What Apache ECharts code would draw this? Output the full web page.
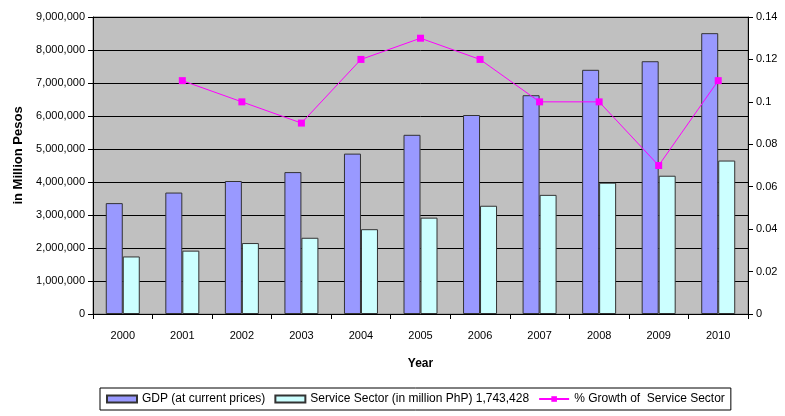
<!DOCTYPE html>
<html>
<head>
<meta charset="utf-8">
<script src="https://cdn.jsdelivr.net/npm/echarts@6/dist/echarts.min.js"></script>
<style>
  html, body { margin: 0; padding: 0; background: #fff; }
  #chart { width: 785px; height: 416px; }
</style>
</head>
<body>
<div id="chart"></div>
<script>
const years = ['2000', '2001', '2002', '2003', '2004', '2005', '2006', '2007', '2008', '2009', '2010']
const gdp = [3360000, 3680000, 4030000, 4300000, 4860000, 5430000, 6030000, 6630000, 7400000, 7660000, 8510000]
const service = [1743428, 1920000, 2150000, 2310000, 2570000, 2920000, 3280000, 3610000, 3980000, 4190000, 4650000]
const growth = [null, 0.11, 0.10, 0.09, 0.12, 0.13, 0.12, 0.10, 0.10, 0.07, 0.11]

const font = 'Liberation Sans, Arial, sans-serif'

const chart = echarts.init(document.getElementById('chart'))

const option = {
  animation: false,
  textStyle: { fontFamily: font },
  grid: {
    left: 93,
    right: 37,
    top: 17,
    bottom: 102,
    show: true,
    backgroundColor: '#C0C0C0',
    borderColor: '#808080',
    borderWidth: 1
  },
  legend: {
    left: 100,
    top: 388,
    padding: [5, 6, 5, 6],
    borderColor: '#000',
    borderWidth: 1,
    itemGap: 9,
    itemWidth: 30,
    itemHeight: 7,
    textStyle: { fontSize: 12, color: '#000', fontFamily: font },
    data: [
      { name: 'GDP (at current prices)', icon: 'rect' },
      { name: 'Service Sector (in million PhP) 1,743,428', icon: 'rect' },
      { name: '% Growth of  Service Sector' }
    ]
  },
  xAxis: {
    type: 'category',
    data: years,
    name: 'Year',
    nameLocation: 'middle',
    nameGap: 44,
    nameTextStyle: { fontWeight: 'bold', fontSize: 12, color: '#000' },
    axisLine: { lineStyle: { color: '#000' } },
    axisTick: { show: true, length: 5, lineStyle: { color: '#000' } },
    axisLabel: { color: '#000', fontSize: 11, margin: 16 }
  },
  yAxis: [
    {
      type: 'value',
      min: 0,
      max: 9000000,
      interval: 1000000,
      name: 'in Million Pesos',
      nameLocation: 'middle',
      nameGap: 67,
      nameTextStyle: { fontWeight: 'bold', fontSize: 13, color: '#000', padding: [0, 0, 0, 20] },
      axisLine: { show: true, lineStyle: { color: '#000' } },
      axisTick: { show: true, length: 5, lineStyle: { color: '#000' } },
      axisLabel: {
        color: '#000',
        fontSize: 11,
        margin: 8,
        formatter: v => v.toLocaleString('en-US')
      },
      splitLine: { lineStyle: { color: '#000', width: 1 } }
    },
    {
      type: 'value',
      min: 0,
      max: 0.14,
      interval: 0.02,
      position: 'right',
      axisLine: { show: true, lineStyle: { color: '#000' } },
      axisTick: { show: true, length: 5, lineStyle: { color: '#000' } },
      axisLabel: {
        color: '#000',
        fontSize: 11,
        margin: 8,
        formatter: v => String(+v.toFixed(2))
      },
      splitLine: { show: false }
    }
  ],
  series: [
    {
      name: 'GDP (at current prices)',
      type: 'bar',
      data: gdp,
      barWidth: 17,
      barGap: '0%',
      itemStyle: { color: '#9999FF', borderColor: '#333', borderWidth: 1 }
    },
    {
      name: 'Service Sector (in million PhP) 1,743,428',
      type: 'bar',
      data: service,
      barWidth: 17,
      itemStyle: { color: '#CCFFFF', borderColor: '#333', borderWidth: 1 }
    },
    {
      name: '% Growth of  Service Sector',
      type: 'line',
      yAxisIndex: 1,
      data: growth,
      symbol: 'rect',
      symbolSize: 7,
      lineStyle: { color: '#FF00FF', width: 1 },
      itemStyle: { color: '#FF00FF' }
    }
  ]
}

chart.setOption(option)
</script>
</body>
</html>
